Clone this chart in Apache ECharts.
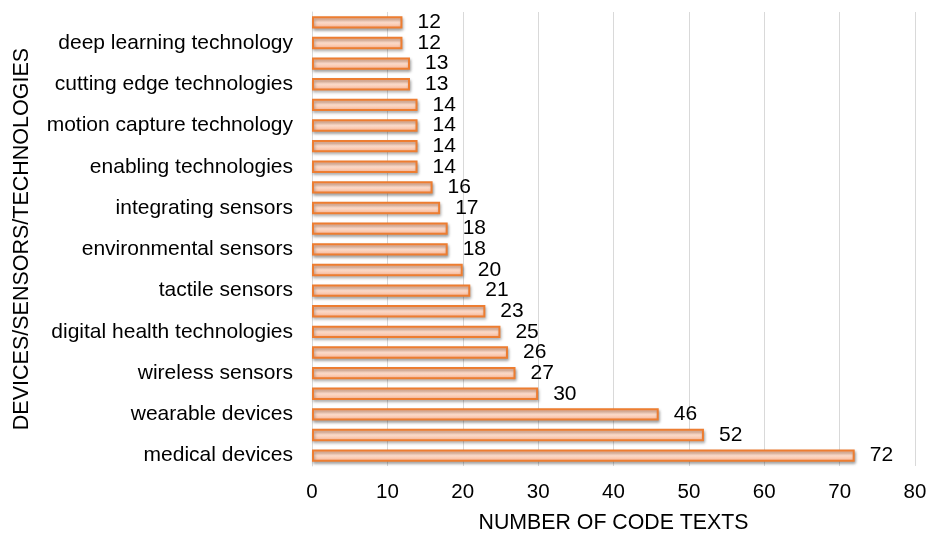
<!DOCTYPE html>
<html><head><meta charset="utf-8">
<script src="https://cdn.jsdelivr.net/npm/echarts@6/dist/echarts.min.js"></script>
<style>html,body{margin:0;padding:0;background:#fff}#c{width:928px;height:533px}</style>
</head><body><div id="c"></div>
<script>
var categories = ["medical devices","","wearable devices","","wireless sensors","","digital health technologies","","tactile sensors","","environmental sensors","","integrating sensors","","enabling technologies","","motion capture technology","","cutting edge technologies","","deep learning technology",""];
var values = [72,52,46,30,27,26,25,23,21,20,18,18,17,16,14,14,14,14,13,13,12,12];
var xTicks = [0,10,20,30,40,50,60,70,80];
var xTitle = "NUMBER OF CODE TEXTS";
var yTitle = "DEVICES/SENSORS/TECHNOLOGIES";

var chart = echarts.init(document.getElementById('c'));
var font = 'Liberation Sans, Arial, sans-serif';
var fs = 21;
chart.setOption({
  animation:false,
  grid:{left:312,right:13,top:12,bottom:67,containLabel:false,outerBoundsMode:'none'},
  xAxis:{type:'value',min:xTicks[0],max:xTicks[xTicks.length-1],interval:10,
    axisLine:{show:false},axisTick:{show:false},
    splitLine:{show:true,lineStyle:{color:'#d9d9d9',width:1}},
    axisLabel:{color:'#000',fontSize:20.5,fontFamily:font,margin:16},
    name:xTitle,nameLocation:'middle',nameGap:47,
    nameTextStyle:{color:'#000',fontSize:21.3,fontFamily:font}},
  yAxis:{type:'category',data:categories,
    axisLine:{show:true,lineStyle:{color:'#d9d9d9'}},axisTick:{show:false},
    axisLabel:{color:'#000',fontSize:fs,fontFamily:font,margin:19,interval:0},
    name:yTitle,nameLocation:'middle',nameGap:279,nameRotate:90,
    nameTextStyle:{color:'#000',fontSize:21.5,fontFamily:font}},
  series:[{type:'bar',data:values,barWidth:'60%',
    itemStyle:{
      color:new echarts.graphic.LinearGradient(0,0,0,1,[
        {offset:0,color:'#f8b998'},{offset:0.5,color:'#fddccb'},{offset:1,color:'#f6b08e'}]),
      borderColor:'#ed7d31',borderWidth:2,
      shadowColor:'rgba(0,0,0,0.3)',shadowBlur:3,shadowOffsetX:1,shadowOffsetY:2},
    label:{show:true,position:'right',distance:15,color:'#000',fontSize:fs,fontFamily:font}
  }]
});
</script></body></html>
